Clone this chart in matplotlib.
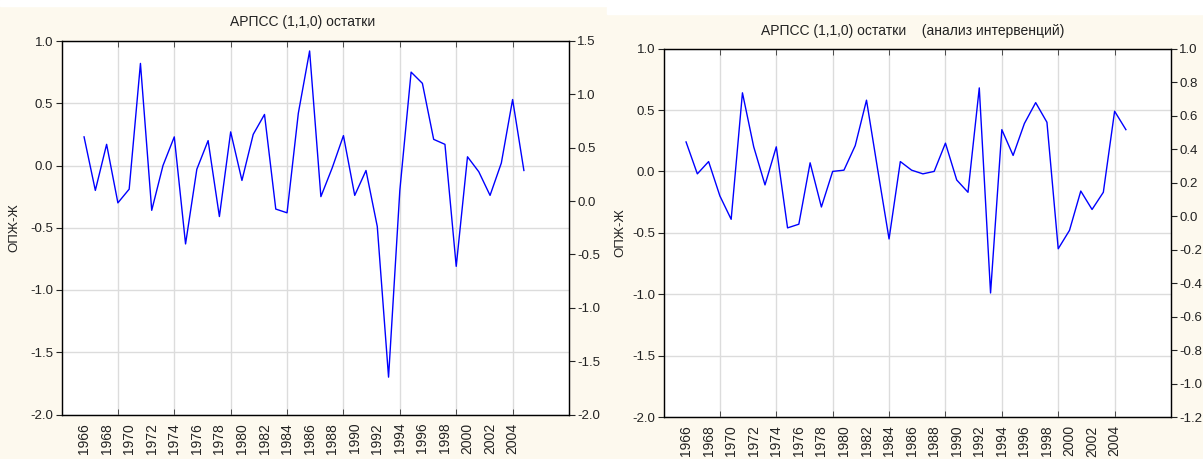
import numpy as np
import matplotlib
matplotlib.use('Agg')
import matplotlib.pyplot as plt
import matplotlib.patches as mpatches
from matplotlib.ticker import MultipleLocator, FixedLocator, FormatStrFormatter

plt.rcParams['font.family'] = ['Liberation Sans', 'DejaVu Sans']
plt.rcParams['axes.unicode_minus'] = False

# ---------------------------------------------
#               DATA
# ---------------------------------------------

years = list(range(1966, 2006))
tick_years = list(range(1966, 2005, 2))
grid_years = list(range(1969, 2005, 5))

resid_arima = [0.23, -0.20, 0.17, -0.30, -0.19, 0.82, -0.36, 0.00, 0.23, -0.63,
               -0.03, 0.20, -0.41, 0.27, -0.12, 0.25, 0.41, -0.35, -0.38, 0.42,
               0.92, -0.25, -0.02, 0.24, -0.24, -0.04, -0.49, -1.70, -0.20, 0.75,
               0.66, 0.21, 0.17, -0.81, 0.07, -0.05, -0.24, 0.02, 0.53, -0.04]

resid_interv = [0.24, -0.02, 0.08, -0.20, -0.39, 0.64, 0.20, -0.11, 0.20, -0.46,
                -0.43, 0.07, -0.29, 0.00, 0.01, 0.21, 0.58, 0.01, -0.55, 0.08,
                0.01, -0.02, 0.00, 0.23, -0.07, -0.17, 0.68, -0.99, 0.34, 0.13,
                0.39, 0.56, 0.40, -0.63, -0.48, -0.16, -0.31, -0.17, 0.49, 0.34]

ylabel = 'ОПЖ-Ж'
titles = ['АРПСС (1,1,0) остатки', 'АРПСС (1,1,0) остатки    (анализ интервенций)']
right_ticks = [[-2.0, -1.5, -1.0, -0.5, 0.0, 0.5, 1.0, 1.5],
               [-1.2, -1.0, -0.8, -0.6, -0.4, -0.2, 0.0, 0.2, 0.4, 0.6, 0.8, 1.0]]
right_lims = [(-2.0, 1.5), (-1.2, 1.0)]

# ---------------------------------------------
#               CREATE GRAPH
# ---------------------------------------------

W, H = 1203, 459
bg = '#fdf9ee'
fig = plt.figure(figsize=(W / 100, H / 100), dpi=100, facecolor=bg)

# white strips on top of the two screenshots
fig.patches.append(mpatches.Rectangle((0, 1 - 6 / H), 607 / W, 6 / H, transform=fig.transFigure,
                                      color='white', zorder=0))
fig.patches.append(mpatches.Rectangle((607 / W, 1 - 14 / H), 1 - 607 / W, 14 / H,
                                      transform=fig.transFigure, color='white', zorder=0))

# axes boxes in pixels: left, top, right, bottom
boxes = [(61.5, 41, 569, 414.5), (663.5, 48.6, 1171, 417)]
title_pos = [(303, 22), (913, 31)]
ylabel_x = [14, 620]

for i, series in enumerate([resid_arima, resid_interv]):
    l, t, r, b = boxes[i]
    ax = fig.add_axes([l / W, (H - b) / H, (r - l) / W, (b - t) / H])
    ax.set_facecolor('white')
    ax.plot(years, series, color='#0000ff', lw=1.0, zorder=3)

    ax.set_xlim(1964, 2009)
    ax.set_ylim(-2.0, 1.0)
    ax.yaxis.set_major_locator(MultipleLocator(0.5))
    ax.yaxis.set_major_formatter(FormatStrFormatter('%.1f'))
    ax.xaxis.set_major_locator(FixedLocator(tick_years))
    ax.set_xticklabels([str(y) for y in tick_years], rotation=90)
    ax.xaxis.set_minor_locator(FixedLocator(grid_years))
    ax.xaxis.remove_overlapping_locs = False

    ax.grid(True, which='minor', axis='x', color='#dcdcdc', lw=1.0, zorder=0)
    ax.grid(True, which='major', axis='y', color='#dcdcdc', lw=1.0, zorder=0)
    ax.tick_params(axis='x', which='major', length=0, pad=6, labelsize=10, colors='#222222')
    ax.tick_params(axis='x', which='minor', length=4, direction='in', top=True, color='#333333')
    ax.tick_params(axis='y', length=4, direction='out', pad=2, labelsize=9.5, colors='#222222')
    for sp in ax.spines.values():
        sp.set_color('#222222')
        sp.set_linewidth(1.0)

    ax2 = ax.twinx()
    ax2.set_ylim(*right_lims[i])
    ax2.set_yticks(right_ticks[i])
    ax2.yaxis.set_major_formatter(FormatStrFormatter('%.1f'))
    ax2.tick_params(axis='y', length=4, direction='out', pad=2, labelsize=9.5, colors='#222222')

    fig.text(title_pos[i][0] / W, 1 - title_pos[i][1] / H, titles[i], ha='center', va='center',
             fontsize=10, color='#222222')
    fig.text(ylabel_x[i] / W, 1 - ((t + b) / 2) / H, ylabel, rotation=90, ha='center', va='center',
             fontsize=9.5, color='#222222')

fig.savefig('out.png', dpi=100, facecolor=bg)
